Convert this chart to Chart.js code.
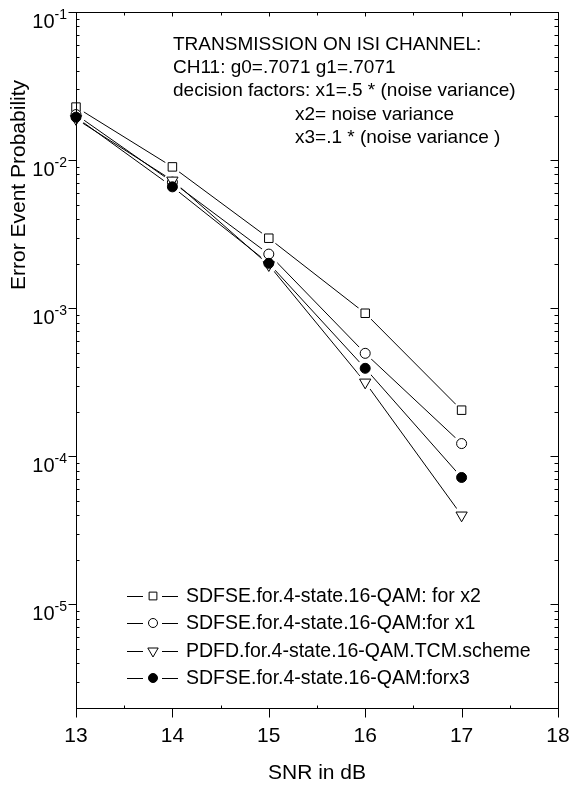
<!DOCTYPE html>
<html>
<head>
<meta charset="utf-8">
<script src="https://cdn.jsdelivr.net/npm/chart.js@4.4.1/dist/chart.umd.min.js"></script>
<style>
  html, body { margin: 0; padding: 0; background: #fff; }
  #wrap { width: 570px; height: 785px; position: relative; }
</style>
</head>
<body>
<div id="wrap"><canvas id="chart" width="570" height="785"></canvas></div>
<script>
// SNR values (dB) on the x axis
const snr = [13, 14, 15, 16, 17];

// error event probability for each scheme
const sdfseX2 = [0.0228, 0.0090, 0.00297, 0.000925, 0.000205];
const sdfseX1 = [0.0203, 0.0071, 0.00232, 0.000496, 0.000122];
const pdfdTcm = [0.0190, 0.0073, 0.00196, 0.000316, 0.000040];
const sdfseX3 = [0.0195, 0.0066, 0.00201, 0.000393, 0.000072];

const seriesLabels = [
  'SDFSE.for.4-state.16-QAM: for x2',
  'SDFSE.for.4-state.16-QAM:for x1',
  'PDFD.for.4-state.16-QAM.TCM.scheme',
  'SDFSE.for.4-state.16-QAM:forx3'
];

const xTicks = [13, 14, 15, 16, 17, 18];
const yDecades = [-1, -2, -3, -4, -5];

const noteLines = [
  'TRANSMISSION ON ISI CHANNEL:',
  'CH11: g0=.7071 g1=.7071',
  'decision factors: x1=.5 * (noise variance)',
  'x2= noise variance',
  'x3=.1 * (noise variance )'
];

const FONT = '"Liberation Sans", Arial, sans-serif';

function pts(vals) {
  return snr.map((x, i) => ({ x: x, y: vals[i] }));
}

function makeSet(label, vals, style, rot, fill, radius) {
  return {
    label: label,
    data: pts(vals),
    borderColor: '#000',
    borderWidth: 1,
    pointStyle: style,
    rotation: rot,
    pointRadius: radius,
    pointBackgroundColor: fill,
    pointBorderColor: '#000',
    pointBorderWidth: 1,
    fill: false,
    tension: 0
  };
}

const datasets = [
  makeSet(seriesLabels[0], sdfseX2, 'rect', 0, '#fff', 6),
  makeSet(seriesLabels[1], sdfseX1, 'circle', 0, '#fff', 5),
  makeSet(seriesLabels[2], pdfdTcm, 'triangle', 180, '#fff', 6.5),
  makeSet(seriesLabels[3], sdfseX3, 'circle', 0, '#000', 5)
];

// white halo round each marker, like the gaps in the original plot
const markerGaps = {
  id: 'markerGaps',
  afterDatasetsDraw(chart) {
    const ctx = chart.ctx;
    ctx.save();
    ctx.fillStyle = '#fff';
    chart.data.datasets.forEach((ds, di) => {
      chart.getDatasetMeta(di).data.forEach(pt => {
        ctx.beginPath();
        ctx.arc(pt.x, pt.y, 8.5, 0, Math.PI * 2);
        ctx.fill();
      });
    });
    ctx.restore();
    chart.data.datasets.forEach((ds, di) => {
      chart.getDatasetMeta(di).data.forEach(pt => pt.draw(ctx, chart.chartArea));
    });
  }
};

// frame, ticks, labels, legend and the note text
const decorations = {
  id: 'decorations',
  afterDraw(chart) {
    const ctx = chart.ctx;
    const a = chart.chartArea;
    const xs = chart.scales.x;
    const ys = chart.scales.y;
    ctx.save();
    ctx.strokeStyle = '#000';
    ctx.fillStyle = '#000';
    ctx.lineWidth = 1;

    // frame
    ctx.strokeRect(Math.round(a.left) + 0.5, Math.round(a.top) + 0.5,
      Math.round(a.right - a.left), Math.round(a.bottom - a.top));

    function line(x1, y1, x2, y2) {
      ctx.beginPath();
      ctx.moveTo(x1, y1);
      ctx.lineTo(x2, y2);
      ctx.stroke();
    }

    // y ticks
    const L = Math.round(a.left) + 0.5;
    const R = Math.round(a.right) + 0.5;
    for (let k = -6; k <= -1; k++) {
      for (let m = 1; m <= 9; m++) {
        const v = m * Math.pow(10, k);
        if (v < ys.min - 1e-12 || v > ys.max + 1e-12) continue;
        const py = Math.round(ys.getPixelForValue(v)) + 0.5;
        if (m === 1) {
          line(L - 8, py, L, py);
          line(R - 8, py, R, py);
        } else {
          line(L, py, L + 3, py);
          line(R - 4, py, R, py);
        }
      }
    }

    // y tick labels 10^k
    yDecades.forEach(k => {
      const py = ys.getPixelForValue(Math.pow(10, k));
      ctx.textAlign = 'right';
      ctx.textBaseline = 'alphabetic';
      ctx.font = '14px ' + FONT;
      const exp = '-' + (-k);
      ctx.fillText(exp, 67, py + 7);
      const ew = ctx.measureText(exp).width;
      ctx.font = '20px ' + FONT;
      ctx.fillText('10', 67 - ew, py + 16);
    });

    // x ticks
    const T = Math.round(a.top) + 0.5;
    const B = Math.round(a.bottom) + 0.5;
    for (let v = 13; v <= 18.001; v += 0.5) {
      const px = Math.round(xs.getPixelForValue(v)) + 0.5;
      if (Number.isInteger(v)) {
        line(px, B, px, B + 9);
        line(px, T, px, T + 4);
      } else {
        line(px, B, px, B - 3);
        line(px, T, px, T + 3);
      }
    }
    ctx.font = '21px ' + FONT;
    ctx.textAlign = 'center';
    ctx.textBaseline = 'alphabetic';
    xTicks.forEach(v => ctx.fillText(String(v), xs.getPixelForValue(v), 742));

    // axis titles
    ctx.fillText('SNR in dB', 317, 779);
    ctx.save();
    ctx.translate(25, 185);
    ctx.rotate(-Math.PI / 2);
    ctx.font = '21px ' + FONT;
    ctx.fillText('Error Event Probability', 0, 0);
    ctx.restore();

    // note text
    ctx.font = '19px ' + FONT;
    ctx.textAlign = 'left';
    ctx.textBaseline = 'middle';
    const noteY = [45, 68, 91, 115, 138];
    noteLines.forEach((t, i) => {
      ctx.fillText(t, i < 3 ? 173 : 295, noteY[i]);
    });

    // legend
    const rowY = [596, 623, 651, 678];
    chart.data.datasets.forEach((ds, i) => {
      const y = rowY[i];
      line(127, y + 0.5, 143, y + 0.5);
      line(162, y + 0.5, 178, y + 0.5);
      ctx.fillStyle = ds.pointBackgroundColor;
      ctx.strokeStyle = '#000';
      Chart.helpers.drawPoint(ctx, {
        pointStyle: ds.pointStyle,
        rotation: ds.rotation,
        radius: ds.pointRadius - 0.5,
        borderWidth: 1
      }, 153, y);
      ctx.fillStyle = '#000';
      ctx.font = '19.5px ' + FONT;
      ctx.textAlign = 'left';
      ctx.textBaseline = 'middle';
      ctx.fillText(ds.label, 186, y + 1);
    });

    ctx.restore();
  }
};

new Chart(document.getElementById('chart'), {
  type: 'line',
  data: { datasets: datasets },
  options: {
    responsive: false,
    animation: false,
    layout: { padding: { top: 12, right: 12, left: 0, bottom: 0 } },
    plugins: {
      legend: { display: false },
      tooltip: { enabled: false }
    },
    scales: {
      x: {
        type: 'linear',
        min: 13,
        max: 18,
        grid: { display: false },
        border: { display: false },
        ticks: { display: false },
        afterFit(scale) { scale.height = 77; }
      },
      y: {
        type: 'logarithmic',
        min: 2e-6,
        max: 0.1,
        grid: { display: false },
        border: { display: false },
        ticks: { display: false },
        afterFit(scale) { scale.width = 76; }
      }
    }
  },
  plugins: [markerGaps, decorations]
});
</script>
</body>
</html>
